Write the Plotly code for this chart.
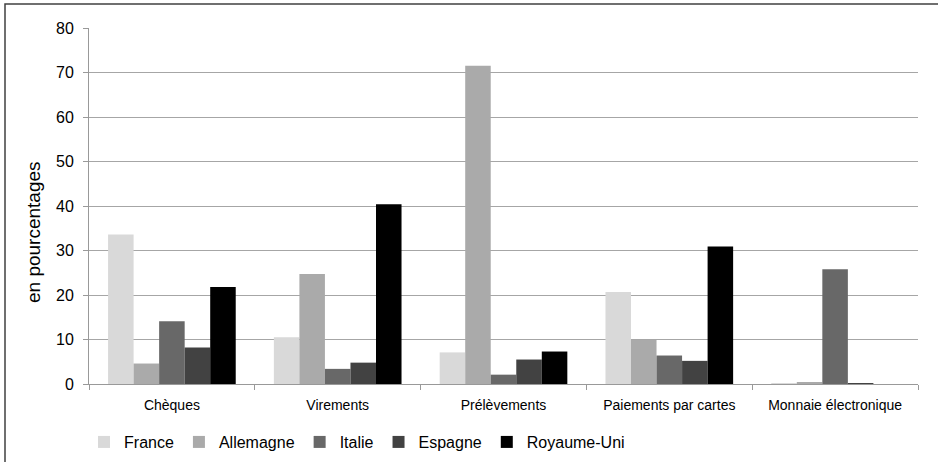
import plotly.graph_objects as go

categories = ["Chèques", "Virements", "Prélèvements", "Paiements par cartes", "Monnaie électronique"]
countries = ["France", "Allemagne", "Italie", "Espagne", "Royaume-Uni"]
france = [33.6, 10.5, 7.1, 20.7, 0.05]
allemagne = [4.6, 24.7, 71.5, 9.9, 0.3]
italie = [14.1, 3.4, 2.1, 6.4, 25.8]
espagne = [8.2, 4.8, 5.5, 5.2, 0.15]
royaume_uni = [21.8, 40.4, 7.3, 30.9, 0.0]
series = [france, allemagne, italie, espagne, royaume_uni]
colors = ["#d9d9d9", "#aaaaaa", "#686868", "#424242", "#000000"]
y_ticks = [0, 10, 20, 30, 40, 50, 60, 70, 80]
y_title = "en pourcentages"

W, H = 938, 462
ML, MR, MT, MB = 89, 20, 28, 78

fig = go.Figure()
for name, vals, col in zip(countries, series, colors):
    fig.add_trace(go.Bar(x=categories, y=vals, name=name, marker_color=col,
                         marker_line_width=0))

pw = W - ML - MR
ph = H - MT - MB
fig.add_shape(type="rect", xref="paper", yref="paper",
              x0=(5 - ML) / pw, x1=(W + 20 - ML) / pw,
              y0=-(H + 20 - MT - ph) / ph, y1=1 + (MT - 4) / ph,
              line=dict(color="#404040", width=1.5), layer="above")
fig.add_annotation(text=y_title, xref="paper", yref="paper",
                   x=(33 - ML) / pw, y=(H - MB - 232) / ph,
                   xanchor="center", yanchor="middle", textangle=-90,
                   showarrow=False, font=dict(size=19))

fig.update_layout(
    width=W, height=H,
    margin=dict(l=ML, r=MR, t=MT, b=MB, pad=0, autoexpand=False),
    paper_bgcolor="white", plot_bgcolor="white",
    barmode="group", bargap=0.23, bargroupgap=0,
    font=dict(family="Liberation Sans, Arial, sans-serif", size=13, color="#000000"),
    showlegend=True,
    legend=dict(orientation="h", x=-0.006, xanchor="left", y=-0.163, yanchor="middle",
                font=dict(size=16), traceorder="normal", itemwidth=30),
    xaxis=dict(showline=True, linecolor="#999999", linewidth=1,
               ticks="outside", tickson="boundaries", ticklen=5, tickcolor="#999999",
               ticklabelstandoff=8,
               showgrid=False, tickfont=dict(size=14)),
    yaxis=dict(range=[0, 80], tickvals=y_ticks, showline=True, linecolor="#999999",
               linewidth=1, ticks="outside", ticklen=5, tickcolor="#999999",
               ticklabelstandoff=6,
               showgrid=True, gridcolor="#a6a6a6", gridwidth=1, zeroline=False,
               tickfont=dict(size=16)),
)

fig.write_html("out.html")
